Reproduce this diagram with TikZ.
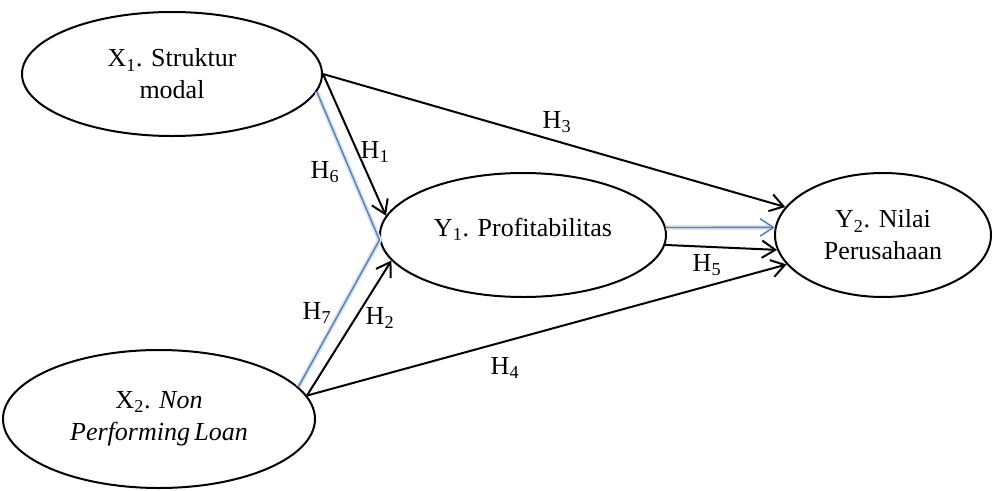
\documentclass[tikz,border=0pt]{standalone}
\usepackage{fontspec}
\setmainfont{Liberation Serif}
\usetikzlibrary{shapes.geometric,arrows.meta}
\definecolor{pathblue}{RGB}{84,130,185}
\colorlet{pathhalo}{pathblue!22}
\tikzset{
  var/.style={draw, ellipse, line width=1.5pt, inner sep=0pt, align=center,
    font=\fontsize{19.5}{24}\selectfont},
  hyp/.style={line width=1.5pt, -{Straight Barb[length=10pt,width=13pt,line width=1.5pt]}},
  med/.style={draw=pathblue, line width=1.1pt, preaction={draw=pathhalo, line width=3.6pt}},
  lab/.style={inner sep=1pt, font=\fontsize{19.5}{22}\selectfont}
}

\begin{document}
\begin{tikzpicture}[x=0.75pt,y=-0.75pt]
\useasboundingbox (0,0) rectangle (993,490);
% variables
\node[var, minimum width=225pt, minimum height=93pt] (x1) at (172,74) {X\textsubscript{1}. Struktur\\modal};
\node[var, minimum width=214.5pt, minimum height=93pt] (y1) at (523,235) {\raisebox{11pt}{Y\textsubscript{1}. Profitabilitas}};
\node[var, minimum width=234pt, minimum height=103.5pt] (x2) at (159,419) {X\textsubscript{2}. \textit{Non}\\\textit{Performing\,Loan}};
\node[var, minimum width=162pt, minimum height=93pt] (y2) at (883,235) {Y\textsubscript{2}. Nilai\\Perusahaan};
% mediation paths
\path[med] (x1.-7) -- (y1.182) -- (x2.13);
\draw[med, -{Straight Barb[length=10pt,width=13pt,line width=1.1pt]}] (y1.3) -- (y2.176);
% direct paths
\draw[hyp] (x1.east) -- (y1.172);
\draw[hyp] (x1.east) -- (y2.164);
\draw[hyp] (x2.9) -- (y1.191);
\draw[hyp] (x2.9) -- (y2.197);
\draw[hyp] (y1.-4) -- (y2.188);
% labels
\node[lab] (h1) at (375,152) {H\textsubscript{1}};
\node[lab] (h2) at (380,318) {H\textsubscript{2}};
\node[lab] (h3) at (557,122) {H\textsubscript{3}};
\node[lab] (h4) at (505,368) {H\textsubscript{4}};
\node[lab] (h5) at (707,265) {H\textsubscript{5}};
\node[lab] (h6) at (325,172) {H\textsubscript{6}};
\node[lab] (h7) at (317,313) {H\textsubscript{7}};
\end{tikzpicture}
\end{document}
